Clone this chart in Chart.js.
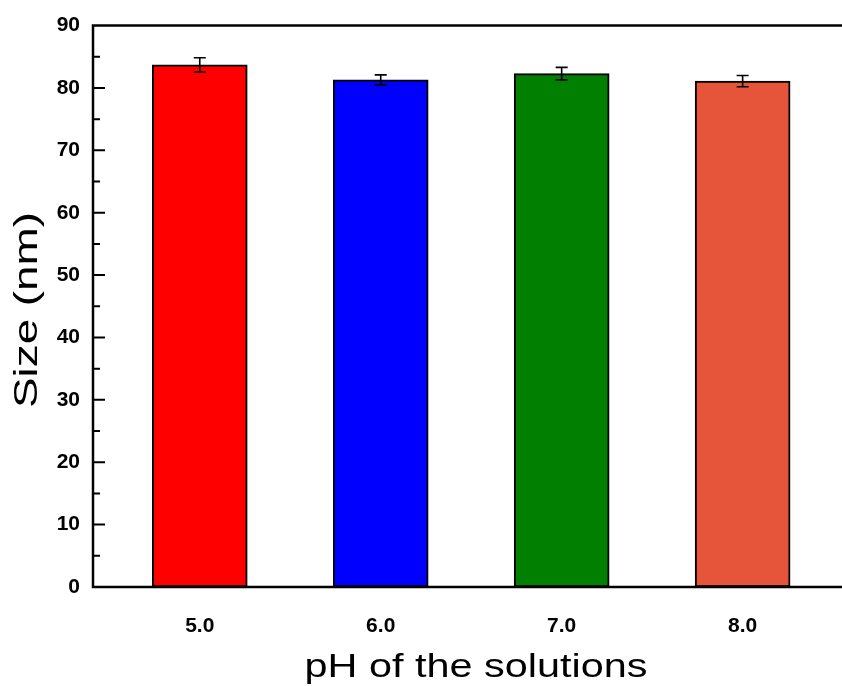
<!DOCTYPE html>
<html>
<head>
<meta charset="utf-8">
<script src="https://cdn.jsdelivr.net/npm/chart.js@4"></script>
<style>
  html, body { margin: 0; padding: 0; background: #fff; overflow: hidden; }
  #wrap { position: relative; width: 860px; height: 686px; }
</style>
</head>
<body>
<div id="wrap"><canvas id="c"></canvas></div>
<script>
const categories = ['5.0', '6.0', '7.0', '8.0'];
const phValues = [5, 6, 7, 8];
const sizes = [83.7, 81.3, 82.3, 81.1];
const errors = [1.15, 0.8, 1.0, 0.9];
const barColors = ['#FF0000', '#0000FF', '#007F00', '#E6553A'];
const yMajorTicks = [0, 10, 20, 30, 40, 50, 60, 70, 80, 90];
const yMinorTicks = [5, 15, 25, 35, 45, 55, 65, 75, 85];
const xTitle = 'pH of the solutions';
const yTitle = 'Size (nm)';

const points = phValues.map((x, i) => ({ x: x, y: sizes[i] }));

const framePlugin = {
  id: 'frame',
  afterDatasetsDraw(chart) {
    const { ctx, chartArea: a, scales } = chart;
    const ys = scales.y;
    ctx.save();
    // error bars
    const meta = chart.getDatasetMeta(0);
    ctx.strokeStyle = '#000';
    ctx.lineWidth = 1.6;
    meta.data.forEach((bar, i) => {
      const x = bar.x;
      const yt = ys.getPixelForValue(sizes[i] + errors[i]);
      const yb = ys.getPixelForValue(sizes[i] - errors[i]);
      ctx.beginPath();
      ctx.moveTo(x, yt); ctx.lineTo(x, yb);
      ctx.moveTo(x - 6, yt); ctx.lineTo(x + 6, yt);
      ctx.moveTo(x - 6, yb); ctx.lineTo(x + 6, yb);
      ctx.stroke();
    });
    // axis frame
    ctx.lineWidth = 2.5;
    ctx.beginPath();
    ctx.moveTo(a.right + 5, a.top);
    ctx.lineTo(a.left, a.top);
    ctx.lineTo(a.left, a.bottom);
    ctx.lineTo(a.right + 5, a.bottom);
    ctx.moveTo(a.right, a.top);
    ctx.lineTo(a.right, a.bottom);
    ctx.stroke();
    // inward ticks
    ctx.lineWidth = 2;
    ctx.beginPath();
    yMajorTicks.forEach(v => {
      const y = ys.getPixelForValue(v);
      if (v === 0 || v === 90) return;
      ctx.moveTo(a.left, y); ctx.lineTo(a.left + 12, y);
    });
    yMinorTicks.forEach(v => {
      const y = ys.getPixelForValue(v);
      ctx.moveTo(a.left, y); ctx.lineTo(a.left + 7, y);
    });
    ctx.stroke();
    // titles
    ctx.fillStyle = '#000';
    ctx.font = '34px "Liberation Sans", Arial, sans-serif';
    ctx.textAlign = 'center';
    ctx.textBaseline = 'alphabetic';
    let w = ctx.measureText(xTitle).width;
    ctx.save();
    ctx.translate(476, 677);
    ctx.scale(343 / w, 1);
    ctx.fillText(xTitle, 0, 0);
    ctx.restore();
    w = ctx.measureText(yTitle).width;
    ctx.save();
    ctx.translate(37, 310);
    ctx.rotate(-Math.PI / 2);
    ctx.scale(196 / w, 1);
    ctx.fillText(yTitle, 0, 0);
    ctx.restore();
    ctx.restore();
  }
};

new Chart(document.getElementById('c'), {
  type: 'bar',
  data: {
    datasets: [{
      data: points,
      backgroundColor: barColors,
      borderColor: '#000',
      borderWidth: 2,
      borderSkipped: false,
      barThickness: 95
    }]
  },
  options: {
    responsive: true,
    maintainAspectRatio: false,
    animation: false,
    layout: { padding: { top: 24, right: 7, left: 0, bottom: 0 } },
    plugins: { legend: { display: false }, tooltip: { enabled: false } },
    scales: {
      x: {
        type: 'linear',
        offset: false,
        min: 4.41,
        max: 8.61,
        grid: { display: false, drawTicks: false, offset: false },
        border: { display: false },
        afterBuildTicks(scale) { scale.ticks = phValues.map(v => ({ value: v })); },
        afterFit(scale) { scale.height = 99; },
        ticks: {
          color: '#000',
          padding: 27,
          font: { family: '"Liberation Sans", Arial, sans-serif', size: 21, weight: 'bold' },
          callback: (v) => categories[phValues.indexOf(v)] ?? ''
        }
      },
      y: {
        min: 0,
        max: 90,
        grid: { display: false, drawTicks: false },
        border: { display: false },
        afterBuildTicks(scale) { scale.ticks = yMajorTicks.map(v => ({ value: v })); },
        afterFit(scale) { scale.width = 93; },
        ticks: {
          color: '#000',
          padding: 13,
          font: { family: '"Liberation Sans", Arial, sans-serif', size: 21, weight: 'bold' }
        }
      }
    }
  },
  plugins: [framePlugin]
});
</script>
</body>
</html>
